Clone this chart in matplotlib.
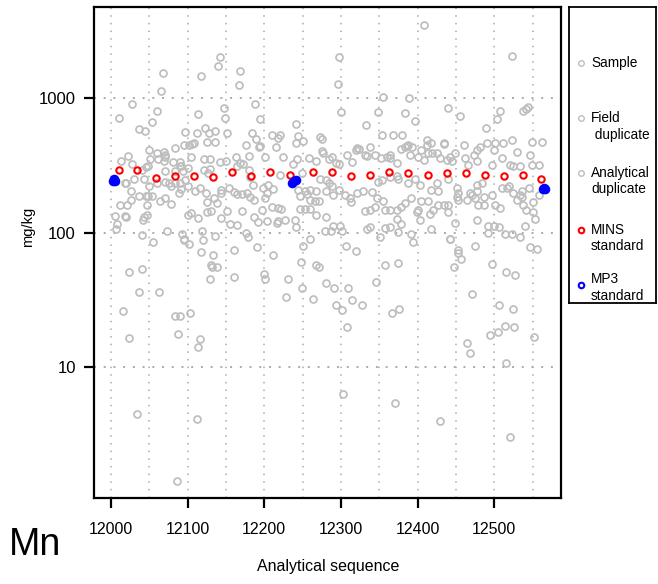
import matplotlib
matplotlib.use('Agg')
import matplotlib.pyplot as plt
import numpy as np

plt.rcParams['font.family'] = ['Liberation Sans', 'DejaVu Sans']

# gray points (sample, field duplicate, analytical duplicate), read as (sequence, mg/kg)
samples_left = [
    (12028, 910), (12010, 706), (12060, 800), (12054, 660), (12037, 590), (12044, 570),
    (12068, 1530), (12066, 1120), (12117, 1470), (12142, 2030), (12140, 1740),
    (12169, 1600), (12167, 1260), (12114, 760), (12148, 850), (12149, 706),
    (12123, 595), (12136, 570), (12152, 545), (12097, 555), (12112, 550), (12128, 545),
    (12184, 545), (12095, 445), (12102, 445), (12106, 452), (12108, 460), (12125, 472),
    (12136, 474), (12083, 425), (12176, 445), (12050, 410), (12060, 392), (12069, 400),
    (12070, 377), (12022, 370), (12013, 340), (12028, 325), (12048, 310),
    (12051, 355), (12062, 355), (12071, 365), (12069, 340), (12081, 333), (12090, 332),
    (12092, 312), (12104, 365), (12121, 350), (12129, 355), (12142, 332), (12150, 338),
    (12163, 365), (12169, 330), (12180, 370), (12046, 305), (12070, 288), (12083, 288),
    (12090, 310), (12094, 288), (12100, 300), (12121, 292), (12127, 276), (12129, 297),
    (12165, 310), (12172, 325), (12180, 292), (12030, 252), (12041, 290), (12043, 250),
    (12018, 233), (12020, 232), (12026, 205), (12050, 222), (12060, 235), (12070, 238),
    (12076, 232), (12079, 223), (12083, 232), (12090, 235), (12097, 245), (12092, 210),
    (12100, 220), (12110, 204), (12116, 213), (12124, 198), (12135, 180), (12144, 206),
    (12143, 196), (12154, 215), (12160, 199), (12165, 193), (12171, 193), (12178, 196),
    (12182, 185), (12026, 175), (12012, 160), (12021, 160), (12037, 188), (12046, 188),
    (12049, 186), (12053, 188), (12064, 173), (12070, 180), (12079, 162), (12089, 196),
    (12047, 161), (12126, 168), (12138, 166), (12105, 140), (12101, 134), (12125, 143),
    (12131, 144), (12143, 128), (12152, 144), (12171, 145), (12006, 133), (12018, 133),
    (12020, 130), (12043, 130), (12047, 135), (12042, 123), (12113, 128), (12156, 116),
    (12164, 113), (12008, 116), (12007, 107), (12073, 102), (12093, 98), (12095, 88),
    (12119, 103), (12120, 88), (12136, 95), (12176, 100), (12179, 93), (12040, 96),
    (12055, 85), (12118, 72), (12133, 68), (12160, 74), (12096, 89), (12102, 82),
    (12131, 57), (12132, 55), (12139, 55), (12129, 45), (12161, 47), (12023, 51),
    (12040, 54), (12037, 36), (12063, 36), (12016, 26), (12023, 16.4), (12084, 24),
    (12090, 24), (12103, 25), (12087, 17.7), (12116, 16.1), (12113, 14), (12034, 4.5),
    (12112, 4.1), (12086, 1.43),
]

samples_mid = [
    (12188, 910), (12194, 700), (12298, 2030), (12296, 1280), (12242, 640), (12300, 783),
    (12333, 630), (12349, 783), (12355, 1020), (12384, 770), (12389, 1000), (12221, 535),
    (12244, 520), (12273, 512), (12353, 530), (12368, 535), (12380, 535), (12210, 535),
    (12189, 496), (12194, 440), (12193, 430), (12201, 365), (12218, 505), (12215, 430),
    (12225, 365), (12241, 460), (12251, 480), (12275, 500), (12275, 405), (12276, 390),
    (12258, 360), (12268, 343), (12243, 350), (12238, 325), (12288, 365), (12285, 350),
    (12294, 330), (12297, 322), (12308, 380), (12314, 332), (12321, 425), (12320, 410),
    (12323, 420), (12332, 380), (12334, 370), (12338, 430), (12345, 375), (12352, 358),
    (12360, 362), (12364, 357), (12364, 375), (12379, 418), (12384, 435), (12387, 450),
    (12373, 330), (12181, 260), (12185, 225), (12199, 215), (12205, 225), (12212, 210),
    (12203, 196), (12201, 180), (12220, 270), (12249, 278), (12187, 175), (12197, 147),
    (12187, 130), (12218, 152), (12222, 150), (12210, 155), (12203, 121), (12192, 120),
    (12244, 207), (12253, 202), (12260, 207), (12268, 205), (12247, 186), (12256, 192),
    (12260, 175), (12266, 173), (12271, 173), (12253, 150), (12260, 150), (12247, 150),
    (12273, 252), (12281, 245), (12284, 232), (12288, 222), (12281, 202), (12290, 190),
    (12297, 206), (12305, 190), (12312, 180), (12313, 170), (12321, 196), (12329, 202),
    (12340, 200), (12347, 180), (12355, 173), (12349, 238), (12353, 245), (12364, 260),
    (12373, 265), (12375, 252), (12332, 145), (12338, 147), (12345, 155), (12357, 147),
    (12364, 147), (12373, 147), (12379, 155), (12383, 165), (12218, 122), (12216, 118),
    (12227, 124), (12240, 124), (12242, 110), (12268, 135), (12281, 131), (12279, 103),
    (12287, 103), (12290, 112), (12299, 112), (12301, 103), (12260, 90), (12251, 80),
    (12334, 107), (12338, 110), (12351, 93), (12357, 108), (12364, 110), (12375, 101),
    (12379, 116), (12373, 125), (12200, 49), (12201, 45), (12231, 45), (12229, 33),
    (12248, 60), (12249, 39), (12264, 32), (12267, 57), (12272, 55), (12280, 42),
    (12291, 39), (12294, 29), (12301, 26.5), (12309, 39), (12306, 80), (12320, 73),
    (12315, 31.5), (12308, 20), (12328, 29), (12303, 6.3), (12346, 43), (12358, 57),
    (12374, 59), (12367, 25), (12376, 27), (12370, 5.4), (12190, 78), (12211, 68),
]

samples_right = [
    (12408, 3500), (12523, 2060), (12440, 840), (12455, 730), (12397, 670), (12508, 800),
    (12503, 700), (12538, 800), (12541, 825), (12544, 860), (12489, 600),
    (12393, 435), (12390, 377), (12401, 365), (12405, 410), (12408, 346), (12412, 487),
    (12418, 460), (12412, 445), (12414, 390), (12419, 392), (12425, 390), (12429, 356),
    (12434, 465), (12435, 455), (12438, 346), (12442, 365), (12445, 340), (12449, 390),
    (12460, 445), (12462, 356), (12466, 318), (12473, 377), (12477, 410), (12482, 435),
    (12477, 340), (12490, 460), (12501, 460), (12499, 410), (12497, 318), (12510, 356),
    (12512, 460), (12523, 487), (12529, 400), (12534, 310), (12521, 318), (12525, 310),
    (12549, 475), (12562, 475), (12547, 377), (12549, 318), (12558, 318), (12386, 440),
    (12397, 252), (12403, 225), (12388, 232), (12418, 207), (12427, 202), (12425, 232),
    (12440, 252), (12451, 213), (12453, 196), (12451, 185), (12468, 196), (12471, 190),
    (12477, 202), (12486, 185), (12497, 190), (12484, 232), (12477, 225), (12510, 213),
    (12516, 213), (12519, 220), (12525, 196), (12534, 190), (12536, 202), (12545, 213),
    (12392, 180), (12405, 173), (12414, 173), (12427, 160), (12434, 160), (12440, 160),
    (12453, 175), (12464, 175), (12475, 180), (12479, 160), (12486, 160), (12501, 160),
    (12508, 152), (12529, 175), (12536, 185), (12550, 170), (12558, 190),
    (12399, 143), (12401, 147), (12403, 124), (12416, 137), (12420, 147), (12440, 143),
    (12449, 118), (12477, 124), (12492, 112), (12499, 112), (12506, 110), (12538, 160),
    (12542, 147), (12550, 143), (12553, 125), (12540, 112), (12392, 98), (12418, 107),
    (12442, 90), (12453, 74), (12453, 70), (12475, 80), (12492, 100), (12514, 98),
    (12523, 98), (12534, 93), (12394, 85), (12429, 4.0), (12442, 89), (12457, 64),
    (12448, 55), (12471, 35), (12464, 15), (12468, 12.8), (12497, 58), (12515, 51),
    (12527, 48), (12506, 29), (12524, 27), (12495, 17.3), (12505, 18.3), (12514, 20.3),
    (12526, 20), (12515, 10.8), (12520, 3.0), (12547, 78), (12556, 75), (12552, 16.6),
]

# MINS standard (red)
mins_seq = [12010, 12034, 12059, 12083, 12108, 12133, 12158, 12183, 12208, 12233, 12263, 12288,
            12313, 12338, 12363, 12388, 12413, 12438, 12463, 12488, 12513, 12537, 12561]
mins_val = [291, 291, 254, 263, 263, 260, 282, 263, 280, 270, 280, 282,
            263, 268, 280, 275, 270, 278, 277, 268, 263, 268, 252]

# MP3 standard (blue), replicates
mp3_seq = [12003, 12004, 12005, 12236, 12239, 12241, 12564, 12565, 12566]
mp3_val = [240, 248, 243, 232, 240, 247, 210, 216, 212]

legend_labels = [['Sample'], ['Field', ' duplicate'], ['Analytical', 'duplicate'],
                 ['MINS', 'standard'], ['MP3', 'standard']]
legend_colors = ['#BEBEBE', '#BEBEBE', '#BEBEBE', 'red', 'blue']

gray = '#BEBEBE'
W, H = 658, 584
fig = plt.figure(figsize=(W / 100, H / 100), dpi=100)
ax = fig.add_axes([94 / W, (H - 498) / H, (561 - 94) / W, (498 - 7) / H])

ax.set_yscale('log')
ax.set_xlim(11978, 12587)
ax.set_ylim(10 ** 0.026, 10 ** 3.677)

# dotted grid
dots = (0, (1, 4))
for gx in np.arange(12000, 12551, 50):
    ax.axvline(gx, color='#AAAAAA', lw=1.1, ls=dots, zorder=0)
for gy in [10, 100, 1000]:
    ax.axhline(gy, color='#AAAAAA', lw=1.4, ls=dots, zorder=0)

pts = samples_left + samples_mid + samples_right
sx, sy = zip(*pts)
ax.plot(sx, sy, 'o', ls='none', mfc='none', mec=gray, ms=5.0, mew=1.25, zorder=2)
ax.plot(mins_seq, mins_val, 'o', ls='none', mfc='none', mec='red', ms=4.6, mew=1.5, zorder=3)
ax.plot(mp3_seq, mp3_val, 'o', ls='none', mfc='blue', mec='blue', ms=5.4, mew=1.5, zorder=4)

ax.set_xticks(np.arange(12000, 12501, 100))
ax.set_yticks([10, 100, 1000])
ax.set_yticklabels(['10', '100', '1000'])
ax.yaxis.set_minor_locator(matplotlib.ticker.NullLocator())
ax.tick_params(axis='x', length=7, width=1.6, pad=10, labelsize=11.5)
ax.tick_params(axis='y', length=7, width=1.6, pad=6, labelsize=12)
for s in ax.spines.values():
    s.set_linewidth(1.6)

fig.text(28 / W, 1 - 227 / H, 'mg/kg', rotation=90, ha='center', va='center', fontsize=10.5)
fig.text(328 / W, 1 - 567 / H, 'Analytical sequence', ha='center', va='center', fontsize=11.5)
fig.text(9 / W, 1 - 555 / H, 'Mn', ha='left', va='baseline', fontsize=27)

# legend box
lax = fig.add_axes([569 / W, (H - 303) / H, (656 - 569) / W, (303 - 7) / H])
lax.set_xlim(569, 656)
lax.set_ylim(303, 7)
lax.set_xticks([])
lax.set_yticks([])
for s in lax.spines.values():
    s.set_linewidth(1.3)
key_y = [63, 118, 173, 230, 285]
for lines, col, ky in zip(legend_labels, legend_colors, key_y):
    lw = 1.0 if col == gray else 1.5
    lax.plot([581], [ky], 'o', mfc='none', mec=col, ms=4.0, mew=lw, clip_on=False)
    ty = ky - 6 if lines[0] == 'MP3' else ky
    for i, t in enumerate(lines):
        lax.text(591, ty + i * 16.5, t, ha='left', va='center', fontsize=9.8)

fig.savefig('out.png', dpi=100)
